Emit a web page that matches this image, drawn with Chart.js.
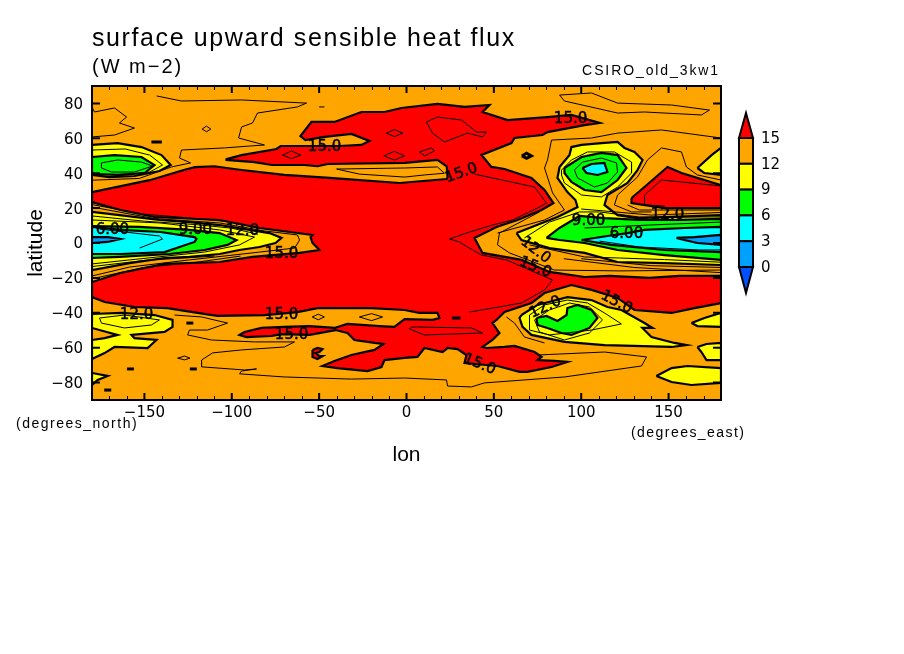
<!DOCTYPE html>
<html>
<head>
<meta charset="utf-8">
<title>surface upward sensible heat flux</title>
<script src="https://cdn.jsdelivr.net/npm/chart.js@4"></script>
<style>
  html, body { margin: 0; padding: 0; background: #fff; }
  canvas { display: block; }
</style>
</head>
<body>
<canvas id="map" width="904" height="654"></canvas>
<script>
// ── Axis ticks ──────────────────────────────────────────────────────────────
const lonTicks = [-150, -100, -50, 0, 50, 100, 150];
const latTicks = [-80, -60, -40, -20, 0, 20, 40, 60, 80];
const lonMinorTicks = [-170, -160, -140, -130, -120, -110, -90, -80, -70, -60, -40, -30, -20, -10,
  10, 20, 30, 40, 60, 70, 80, 90, 110, 120, 130, 140, 160, 170];

// ── Colour key ──────────────────────────────────────────────────────────────
const keyLevels = ['15', '12', '9', '6', '3', '0'];
const keyColors = ['#ffa500', '#ffff00', '#00ff00', '#00ffff', '#00a0ff'];

// ── Filled contours, [lon, lat] ─────────────────────────────────────────────
const redMain = [[-180,29.2],[-147,36],[-127,42],[-121,43.5],[-110,44],[-95.5,42],[-70,39],[-44,37.3],[-4,34.4],
  [23,36.7],[23.5,37.8],[23,44],[17.7,47.6],[-1,45.9],[-45,45.3],[-51,44],[-58.4,44.7],[-77,44.7],[-87,46.4],[-103,47.6],
  [-103,48.1],[-94.4,50.4],[-74.4,53.9],[-72,55.6],[-56.7,55.6],[-38.3,55.6],[-25.8,56.2],[-21.2,58.5],[-31.5,62.5],
  [-47,60.8],[-57.8,59],[-60.7,61.3],[-54.4,69.4],[-41.2,69.4],[-25.8,75.1],[-12.6,75.1],[-2.9,77.4],[17.7,79.7],
  [33.2,78],[47.5,79.1],[43.5,75.1],[57.8,70.5],[80.7,72.2],[94.4,73.4],[110.5,68.8],[101.9,67.6],[80.7,63.6],[77.8,61.9],
  [61.8,60.2],[60.1,57.3],[42.9,50.4],[48.6,43.6],[56.1,42.4],[71.5,37.3],[79,30.4],[84.1,22.9],[77.3,18.9],[63.5,13.2],
  [51.5,9.2],[38.9,2.9],[43.5,-5.7],[65.8,-9.7],[81.8,-16.6],[101.9,-19.5],[116.2,-18.9],[139,-20],[156.2,-18.9],[180,-18.9],
  [180,-34.4],[164.8,-37.3],[151.7,-40.1],[130.5,-38.4],[120.8,-31.5],[105.9,-26.9],[94.4,-24.1],[79,-28.7],[71.5,-34.4],
  [56.1,-39.6],[51.5,-44.1],[49.2,-45.9],[53.2,-51.6],[49.2,-55.6],[43.5,-59.6],[45.8,-60.2],[56.1,-59.6],[61.8,-59],
  [73.3,-62.5],[77.3,-65.3],[75,-67.1],[84.7,-67.6],[92.1,-68.2],[83,-71.1],[69.2,-73.9],[64.7,-73.9],[52.1,-70.5],
  [33.2,-68.8],[34.3,-64.2],[29.2,-60.8],[23.5,-60.2],[20.6,-62.5],[10.3,-60.2],[6.3,-65.3],[-1.1,-65.9],[-12.6,-67.1],
  [-14.3,-71.1],[-22.3,-73.4],[-39.5,-71.7],[-48.1,-70.5],[-41.2,-67.6],[-31.5,-64.2],[-18.3,-61.3],[-13.2,-57.9],
  [-18.3,-57.3],[-29.8,-55.6],[-33.8,-51.6],[-40.6,-49.9],[-55.5,-52.7],[-71.5,-52.2],[-77.3,-53.3],[-91.6,-53.9],
  [-95.6,-52.7],[-92.7,-51],[-83,-48.7],[-69.8,-48.1],[-55.5,-47.6],[-41.2,-48.7],[-33.8,-46.4],[-15.5,-47.6],[-6.9,-48.1],
  [-1.1,-43.6],[14.9,-44.1],[18.9,-43],[17.7,-40.1],[7.4,-40.1],[-1.1,-38.4],[-20,-37.3],[-39.5,-37.3],[-50.9,-37.3],
  [-62.4,-39.6],[-81.3,-41.3],[-108.2,-41.8],[-119.6,-40.1],[-136.8,-37.3],[-155.7,-36.7],[-172.8,-33.8],[-180,-31],
  [-180,-22.4],[-163.7,-17.2],[-138.5,-12],[-107,-10.9],[-88.1,-8],[-61.2,-5.7],[-49.8,-4],[-53.8,0],[-54.9,3.4],[-53.8,4.6],
  [-84.1,8.6],[-107,13.2],[-144.2,14.9],[-163.7,18.9],[-180,23.5]];
const redNorthEast = [[128.8,25.8],[136.2,32.1],[149.4,43.6],[157.4,40.1],[180,33.2],[180,20],[147.7,20],[128.8,22.9]];
const redSmall = [[-53.8,-61.3],[-50.9,-60.2],[-48.1,-60.8],[-49.8,-62.5],[-52.1,-63.1],[-49.8,-64.8],[-48,-64.8],[-50.9,-66.5],[-53.8,-65.3]];

const yellowWest = [[-180,17.8],[-164.3,16],[-141.4,13.2],[-124.2,12],[-107,10.3],[-89.9,7.5],[-78.4,5.7],[-71.5,2.9],[-75,0],
  [-84.1,-2.3],[-95.6,-4],[-107,-6.3],[-124.2,-8],[-138.5,-8.6],[-158.5,-11.5],[-180,-15.5]];
const yellowEast = [[63,5.7],[76.1,10.9],[86.4,14.9],[97.9,20.6],[96.7,24.6],[92.1,29.2],[86.4,37.3],[87.6,43.6],[93.3,50.4],
  [94.4,55],[100.2,56.2],[111.6,57.3],[120.8,57.9],[124.8,54.5],[130.5,52.2],[135.1,47.6],[132.2,41.8],[126.5,34.4],[115,27.5],
  [113.3,21.8],[120.8,16],[132.2,14.3],[180,16],[180,-12.6],[147.7,-11.5],[120.8,-10.9],[101.9,-5.7],[81.8,-2.9],[65.8,1.7]];
const yellowEdgeNE = [[166.5,43],[174.6,50.4],[180,54.5],[180,39],[170.5,40.1]];
const yellowNW = [[-180,56.2],[-165.4,57.3],[-151.7,55],[-140.2,50.4],[-135,44.7],[-141.4,41.3],[-155.7,38.4],[-170,37.8],[-180,39]];
const yellowSouth = [[65.8,-41.3],[75,-35.5],[92.1,-31],[105.9,-32.7],[115,-36.7],[123,-38.4],[136.2,-45.9],[140.8,-48.7],[135,-48.7],
  [140.2,-53.9],[153.4,-57.3],[160.2,-58.5],[151.7,-59.6],[113.3,-58.5],[90.4,-56.7],[71.5,-52.7],[66.4,-48.1],[64.7,-43]];
const yellowSW = [[-180,-40.7],[-163.1,-40.1],[-144.2,-41.3],[-133.9,-44.1],[-133.9,-48.1],[-138.5,-51],[-157.4,-52.7],[-155.7,-54.5],
  [-143.1,-55.6],[-148.2,-60.2],[-167.1,-59.6],[-172.8,-63.1],[-180,-66.5],[-180,-55.6],[-172.8,-54.5],[-165.4,-52.7],[-180,-48.7]];
const yellowLowLeft = [[-180,-74.5],[-171,-76.2],[-176.8,-78.5],[-180,-81.4]];
const yellowLowRight = [[143,-76.2],[151.7,-71.7],[160.8,-70.5],[180,-71.7],[180,-80.2],[163.1,-81.4],[151.7,-79.7]];
const yellowRightA = [[163.1,-45.9],[170.5,-43],[180,-40.1],[180,-48.1],[166.5,-47.6]];
const yellowRightB = [[166.5,-59.6],[171.7,-57.9],[180,-57.3],[180,-67.1],[171.7,-67.1],[168.8,-62.5]];

const greenWest = [[-180,9.7],[-152.8,9.2],[-124.2,7.5],[-107,5.7],[-97.3,1.7],[-102.4,-1.1],[-115.6,-4],[-135.6,-6.3],[-164.3,-8],[-180,-8.6]];
const greenEast = [[80.1,2.9],[87.6,8.6],[93.3,12],[99,15.5],[113.3,14.3],[133.3,13.2],[156.2,13.2],[180,13.8],[180,-9.7],[147.7,-6.9],[120.8,-4],[101.9,0],[87.6,1.7]];
const greenNorth = [[90.4,43],[100.2,49.3],[111.6,51.6],[120.8,50.4],[125.9,43],[120.8,36.1],[111.6,29.2],[101.9,30.4],[94.4,35],[90.4,40.1]];
const greenNW = [[-180,49.3],[-167.1,50.4],[-151.7,49.3],[-144.2,44.7],[-149.9,40.1],[-165.4,39],[-178.6,39.5],[-180,40.7]];
const greenSouth = [[74.4,-43],[80.1,-41.8],[86.4,-44.7],[91.6,-41.3],[92.1,-37.3],[97.9,-35.5],[105.9,-38.4],[109.3,-43],[104.7,-48.7],[94.4,-52.7],[88.7,-51.6],[80.7,-48.7],[75,-47]];

const cyanWest = [[-180,9.2],[-163.7,7.5],[-140.8,6.3],[-121.3,3.4],[-120.2,2.3],[-121.3,0.6],[-138.5,-5.2],[-163.7,-6.3],[-180,-6.3]];
const cyanEast = [[100.2,1.7],[115,4],[126.5,5.7],[136.2,7.5],[159.1,8.6],[180,9.2],[180,-5.2],[147.7,-4],[117.3,-1.1]];
const cyanNorth = [[100.7,43],[105.9,45.3],[113.3,45.9],[115,40.7],[109.3,39],[103,40.1]];

const blueWest = [[-180,3.4],[-171,3.4],[-163.7,2.3],[-171,0.6],[-180,0]];
const blueEast = [[154.5,2.9],[164.8,3.4],[180,4.6],[180,-1.1],[166.5,0],[159,1.7]];

// ── Thin contours (half levels) ─────────────────────────────────────────────
const thinOpen = [
  [[-143,84.3],[-128.8,81.4],[-94.4,82],[-57.2,80.2],[-62.4,78],[-85.3,74.5],[-88.1,68.8],[-94.4,66.5],[-96.1,60.2],[-81.3,56.2],[-104.2,54.5],[-128.8,53.3],[-129.9,48.7],[-123.6,45.9],[-134.5,43.6]],
  [[-180,78],[-178.6,75.1],[-167.1,77.4],[-160.2,72.2],[-164.3,68.8],[-155.7,65.9],[-167.1,61.9],[-180,60.8]],
  [[-50,78],[-47,78]],
  [[83,59],[105.9,60.2],[120.8,63],[145.9,64.8],[180,60.2]],
  [[83,59],[80.7,47.6],[79,43],[83.6,28.7],[90.4,18.9],[79,13.2],[52.1,5.7]],
  [[120.8,27.5],[132.2,37.8],[137.9,47.6],[145.9,54.5],[157.4,52.2],[160.2,43.6],[166.5,39],[180,36.1]],
  [[120.8,27.5],[119,21.8],[128.8,17.8],[140.2,17.8]],
  [[147.7,21.2],[136.2,21.8],[136.2,27.5],[145.9,36.1],[180,32.7]],
  [[38.9,39.5],[73.3,32.1],[80.1,22.9],[76.1,20.6],[60.7,13.2],[49.2,10.3],[34.3,5.7],[24.6,2.3],[30.3,0.6],[34.9,-2.3],[42.9,-6.9],[57.2,-9.7],[83.6,-21.2],[79,-26.9],[65.8,-34.4],[36.1,-39.6]],
  [[76.1,17.8],[53.2,5.7],[52.1,-1.1],[59,-5.7],[84.7,-15.5],[121.9,-16],[180,-15.5]],
  [[67.5,2.9],[81.8,12],[99,17.8],[110.5,17.8],[133.3,14.9],[180,14.9]],
  [[70.4,-1.1],[101.9,-8],[121.9,-8.6],[147.7,-9.5],[180,-11]],
  [[126.5,21.8],[133.3,18.9],[180,18.9]],
  [[110.5,1.1],[133.3,-2.3],[167.7,-4],[180,-4]],
  [[101.9,8.6],[139,10.3],[180,12]],
  [[100,19.5],[140,16],[180,17.5]],
  [[100,-9],[140,-13],[180,-14]],
  [[90,-9],[130,-14],[180,-17]],
  [[-180,20.6],[-144.2,14],[-107,11.5],[-81.3,6.9],[-62.4,4.6],[-61.2,1.7],[-64,-2.9],[-84,-5.2],[-124.2,-9.7],[-158.5,-13.8],[-180,-18.9]],
  [[-180,13.2],[-141,11.5],[-107,7.5],[-87,3.4],[-95.6,-1.1],[-115.6,-5.2],[-158.5,-9.7],[-180,-12]],
  [[-180,15.5],[-150,12.5],[-120,10.5],[-100,8.5],[-85,5]],
  [[-180,22],[-150,16.5],[-120,14],[-100,12]],
  [[-180,-20.5],[-150,-14],[-120,-11],[-95,-7.5]],
  [[-180,-13.5],[-150,-10],[-110,-7.5]],
  [[-175.7,8],[-141.4,4],[-139.6,2.3],[-152.8,-2.9]],
  [[-180,53.3],[-161,53.9],[-147,50.4],[-139.6,44.7],[-147,40.7],[-165,38.5]],
  [[-180,36],[-153,37],[-134.5,43.6]],
  [[-132.8,-41.3],[-117.3,-42.4],[-102.4,-45.9],[-113.9,-49.9],[-124.2,-49.9],[-125.3,-52.7],[-111.6,-55.6],[-87,-56.7],[-64.1,-56.7],[-69.8,-59.6],[-94.4,-61.3],[-111,-63],[-117.3,-67.1],[-117.3,-71],[-92.7,-72.8],[-85.8,-72.2],[-94.4,-73.4],[-95.6,-75],[-69.8,-76.8],[-31.5,-78],[-1,-77.4],[22.9,-78.5],[23.5,-82],[37.2,-82.5],[44.6,-80.2],[90.4,-76.8],[134.5,-70.5],[137.4,-65.3],[113.3,-62.5],[75,-64.2]],
  [[57.2,-42.4],[61.8,-45.9],[67.5,-53.9],[79,-57.3]],
];
const thinRings = [
  [[-117,65.3],[-114.5,67],[-112,65.3],[-114.5,63.8]],
  [[-11.5,63],[-7,65],[-2,63],[-7,61]],
  [[-71,50.4],[-65.8,52.7],[-60.5,50.4],[-65.8,48.4]],
  [[-13,50],[-7,52.5],[-1,50],[-7,47.5]],
  [[11.4,69.4],[17.7,72.2],[31.5,70.5],[40.1,63.6],[45.8,63.6],[43.5,60.8],[34.9,63],[21.7,57.9],[14.9,63]],
  [[7.4,52.2],[14.3,54.5],[16,52.7],[10.3,49.9]],
  [[-40,42.4],[-1,43],[17.7,43.6],[21.7,40],[10.3,39],[-1,37.8],[-27,39.5]],
  [[87.6,84.8],[105.9,86],[120.8,80.2],[151.7,79.1],[173.4,76.2],[168.8,73.4],[136.2,75.1],[120.8,74.5],[90.4,81.4]],
  [[88.7,41.8],[94.4,47.6],[103.6,52.2],[119,52.2],[128.8,46.4],[128.8,40.1],[120.8,32.1],[111.6,26.4],[100.2,27.5],[90.4,34.4],[88.7,39]],
  [[96.1,41.8],[100.7,46.4],[111.6,48.7],[120.2,45.9],[120.8,40.7],[115,34.4],[107.6,32.1],[97.9,37.3]],
  [[-174.6,45.9],[-165.4,47.6],[-151.7,46.4],[-145.4,44.1],[-155.7,40.7],[-168.8,40.7],[-174.6,43]],
  [[-175.7,-43],[-161.4,-41.3],[-141.4,-44.1],[-146,-47],[-161.4,-48.7],[-174.6,-45.9]],
  [[-54,-42.4],[-50.5,-40.8],[-47,-42.4],[-50.5,-44]],
  [[-27,-42.4],[-20,-40.5],[-13.7,-42.4],[-20,-44.5]],
  [[-131,-66],[-127,-64.8],[-124,-66],[-127,-67]],
  [[2.9,-48.1],[37.2,-48.7],[43.5,-51.6],[10.3,-52.7],[1.7,-49.3]],
  [[70.4,-49.9],[70.4,-41.3],[79,-35.5],[92.1,-32.7],[103.6,-34.4],[113.3,-40.1],[123,-46.4],[105.9,-49.9],[81.8,-52.7]],
  [[73.3,-44.1],[81.8,-38.4],[93.3,-34.4],[104.7,-36.7],[112.2,-44.1],[104.7,-51.6],[90.4,-55.6],[76.1,-51]],
];
const thickSpecks = [
  [[-146,57.9],[-140,57.9]],
  [[-126,-45.9],[-122,-45.9]],
  [[-160,-72.2],[-156,-72.2]],
  [[-173,-84.3],[-169,-84.3]],
  [[-124,-72.2],[-120,-72.2]],
  [[26,-43],[31,-43]],
  [[66,49.9],[68.7,51.5],[71.5,49.9],[68.7,48.5],[66,49.9]],
];

// ── Contour labels ──────────────────────────────────────────────────────────
const labelText = ['15.0', '15.0', '15.0', '6.00', '9.00', '12.0', '15.0', '12.0', '15.0', '15.0', '15.0', '12.0', '15.0', '15.0', '12.0', '9.00', '6.00', '12.0'];
const labelLon = [93.9, -46.9, 31.5, -168.3, -120.8, -93.9, -71.5, -154.5, -71.5, -65.8, 41.8, 79.5, 120.2, 73.8, 73.8, 104.2, 125.9, 149.4];
const labelLat = [70.8, 54.8, 40, 7.2, 7.2, 6.7, -6.5, -41.5, -41.5, -53, -69.6, -36.9, -34, -14, -4.2, 12.4, 4.9, 15.8];
const labelAngle = [0, 0, -20, 0, 0, 0, 0, 0, 0, 0, 22, -25, 28, 22, 38, 0, 0, 0];

// ── Datasets ────────────────────────────────────────────────────────────────
function toPoints(pairs, close) {
  const pts = pairs.map(([x, y]) => ({ x, y }));
  if (close) pts.push({ ...pts[0] });
  return pts;
}

function filled(pairs, color) {
  return {
    data: toPoints(pairs, true), showLine: true, fill: 'shape', backgroundColor: color,
    borderColor: '#000', borderWidth: 2.2, pointRadius: 0, tension: 0,
  };
}

function contour(pairs, close, width) {
  return {
    data: toPoints(pairs, close), showLine: true, fill: false,
    borderColor: '#000', borderWidth: width, pointRadius: 0, tension: 0,
  };
}

const paintOrder = [
  ...[redMain, redNorthEast, redSmall].map(p => filled(p, '#ff0000')),
  ...[yellowWest, yellowEast, yellowEdgeNE, yellowNW, yellowSouth, yellowSW, yellowLowLeft, yellowLowRight, yellowRightA, yellowRightB].map(p => filled(p, '#ffff00')),
  ...[greenWest, greenEast, greenNorth, greenNW, greenSouth].map(p => filled(p, '#00ff00')),
  ...[cyanWest, cyanEast, cyanNorth].map(p => filled(p, '#00ffff')),
  ...[blueWest, blueEast].map(p => filled(p, '#00a0ff')),
  ...thinOpen.map(p => contour(p, false, 1)),
  ...thinRings.map(p => contour(p, true, 1)),
  ...thickSpecks.map(p => contour(p, false, 3)),
];

// ── Plot furniture ──────────────────────────────────────────────────────────
function putText(ctx, text, x, y, font, spacing, align) {
  ctx.font = font;
  ctx.letterSpacing = (spacing || 0) + 'px';
  ctx.textAlign = align || 'left';
  ctx.textBaseline = 'middle';
  ctx.fillStyle = '#000';
  ctx.fillText(text, x, y);
  ctx.letterSpacing = '0px';
}

const backdrop = {
  id: 'backdrop',
  beforeDatasetsDraw(chart) {
    const { ctx, chartArea: a } = chart;
    ctx.save();
    ctx.fillStyle = '#ffa500';
    ctx.fillRect(a.left, a.top, a.width, a.height);
    ctx.restore();
  },
};

const furniture = {
  id: 'furniture',
  afterDatasetsDraw(chart) {
    const { ctx, chartArea: a, scales: { x, y } } = chart;
    ctx.save();

    // contour labels
    labelText.forEach((text, i) => {
      ctx.save();
      ctx.translate(x.getPixelForValue(labelLon[i]), y.getPixelForValue(labelLat[i]));
      ctx.rotate(labelAngle[i] * Math.PI / 180);
      putText(ctx, text, 0, 0, '15px "DejaVu Sans"', 0, 'center');
      ctx.strokeStyle = '#000';
      ctx.lineWidth = 0.5;
      ctx.strokeText(text, 0, 0);
      ctx.restore();
    });

    // inward ticks
    ctx.strokeStyle = '#000';
    ctx.lineWidth = 1;
    ctx.beginPath();
    lonMinorTicks.forEach(v => {
      const px = Math.round(x.getPixelForValue(v)) + 0.5;
      ctx.moveTo(px, a.top); ctx.lineTo(px, a.top + 4);
      ctx.moveTo(px, a.bottom); ctx.lineTo(px, a.bottom - 4);
    });
    ctx.stroke();
    ctx.lineWidth = 2;
    ctx.beginPath();
    lonTicks.forEach(v => {
      const px = x.getPixelForValue(v);
      ctx.moveTo(px, a.top); ctx.lineTo(px, a.top + 7);
      ctx.moveTo(px, a.bottom); ctx.lineTo(px, a.bottom - 7);
    });
    latTicks.forEach(v => {
      const py = y.getPixelForValue(v);
      ctx.moveTo(a.left, py); ctx.lineTo(a.left + 8, py);
      ctx.moveTo(a.right, py); ctx.lineTo(a.right - 8, py);
    });
    ctx.stroke();
    ctx.strokeRect(a.left, a.top, a.width, a.height);

    // titles
    putText(ctx, 'surface upward sensible heat flux', 92, 39, '25px "Liberation Sans"', 1.6);
    putText(ctx, '(W m\u22122)', 92, 67, '20px "Liberation Sans"', 2);
    putText(ctx, 'CSIRO_old_3kw1', 720, 71, '14px "Liberation Sans"', 1.9, 'right');
    putText(ctx, '(degrees_north)', 16, 424, '14px "Liberation Sans"', 1.5);
    putText(ctx, '(degrees_east)', 631, 433, '14px "Liberation Sans"', 1.45);

    // colour key
    const keyLeft = 739, keyWidth = 14, keyTop = 138, keyStep = 25.8;
    const keyMid = keyLeft + keyWidth / 2, keyBottom = keyTop + keyStep * keyColors.length;
    ctx.lineWidth = 2;
    ctx.fillStyle = '#ff0000';
    ctx.beginPath();
    ctx.moveTo(keyMid, 113); ctx.lineTo(keyLeft + keyWidth, keyTop); ctx.lineTo(keyLeft, keyTop); ctx.closePath();
    ctx.fill(); ctx.stroke();
    keyColors.forEach((c, i) => {
      ctx.fillStyle = c;
      ctx.fillRect(keyLeft, keyTop + i * keyStep, keyWidth, keyStep);
      ctx.strokeRect(keyLeft, keyTop + i * keyStep, keyWidth, keyStep);
    });
    ctx.fillStyle = '#0050ff';
    ctx.beginPath();
    ctx.moveTo(keyLeft, keyBottom); ctx.lineTo(keyLeft + keyWidth, keyBottom); ctx.lineTo(keyMid, 293); ctx.closePath();
    ctx.fill(); ctx.stroke();
    keyLevels.forEach((t, i) => {
      putText(ctx, t, 761, keyTop + 1 + i * keyStep, '15px "DejaVu Sans"', 0);
    });

    ctx.restore();
  },
};

// ── Chart ───────────────────────────────────────────────────────────────────
const tickFont = { family: '"DejaVu Sans"', size: 15 };
const axisFont = { family: '"Liberation Sans"', size: 21 };

new Chart(document.getElementById('map'), {
  type: 'scatter',
  data: { datasets: paintOrder.reverse() },
  plugins: [backdrop, furniture],
  options: {
    responsive: false,
    animation: false,
    events: [],
    layout: { padding: { left: 24, top: 86, right: 183, bottom: 186 } },
    plugins: { legend: { display: false }, tooltip: { enabled: false }, title: { display: false } },
    scales: {
      x: {
        type: 'linear', min: -180, max: 180,
        grid: { display: false, drawTicks: false }, border: { display: false },
        afterBuildTicks: s => { s.ticks = lonTicks.map(value => ({ value })); },
        afterFit: s => { s.height = 68; },
        ticks: {
          color: '#000', font: tickFont, padding: 4, maxRotation: 0, autoSkip: false,
          callback: v => String(v).replace('-', '\u2212'),
        },
        title: { display: true, text: 'lon', color: '#000', font: axisFont, padding: 0 },
      },
      y: {
        type: 'linear', min: -90, max: 90,
        grid: { display: false, drawTicks: false }, border: { display: false },
        afterBuildTicks: s => { s.ticks = latTicks.map(value => ({ value })); },
        afterFit: s => { s.width = 68; },
        ticks: {
          color: '#000', font: tickFont, padding: 9, autoSkip: false, labelOffset: 1.5,
          callback: v => String(v).replace('-', '\u2212'),
        },
        title: { display: true, text: 'latitude', color: '#000', font: axisFont, padding: 0 },
      },
    },
  },
});
</script>
</body>
</html>
